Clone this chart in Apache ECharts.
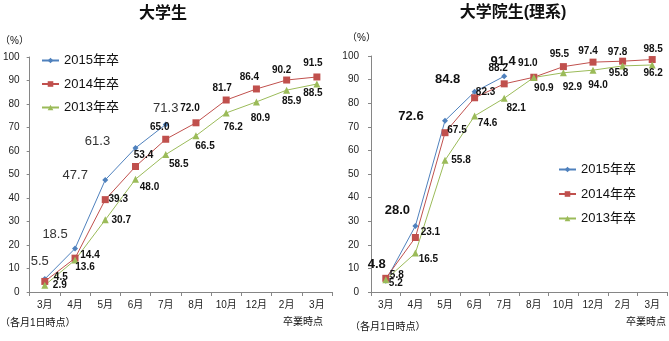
<!DOCTYPE html>
<html>
<head>
<meta charset="utf-8">
<script src="https://cdn.jsdelivr.net/npm/echarts@6/dist/echarts.min.js"></script>
<style>html,body{margin:0;padding:0;background:#fff}#c{width:669px;height:341px}</style>
</head>
<body>
<div id="c"></div>
<script>
// ---- data ----
const months = ['3月','4月','5月','6月','7月','8月','10月','12月','2月','3月'];
const seriesNames = ['2015年卒','2014年卒','2013年卒'];
// 大学生
const univ2015 = [5.5, 18.5, 47.7, 61.3, 71.3];
const univ2014 = [4.5, 14.4, 39.3, 53.4, 65.0, 72.0, 81.7, 86.4, 90.2, 91.5];
const univ2013 = [2.9, 13.6, 30.7, 48.0, 58.5, 66.5, 76.2, 80.9, 85.9, 88.5];
// 大学院生(理系)
const grad2015 = [4.8, 28.0, 72.6, 84.8, 91.4];
const grad2014 = [5.8, 23.1, 67.5, 82.3, 88.2, 91.0, 95.5, 97.4, 97.8, 98.5];
const grad2013 = [5.2, 16.5, 55.8, 74.6, 82.1, 90.9, 92.9, 94.0, 95.8, 96.2];
const yTicks = [0,10,20,30,40,50,60,70,80,90,100];

// ---- layout: label offsets (px, relative to the point) ----
const offU15 = [[-5,-18],[-20,-14],[-30,-4],[-38,-7],[0,-16]];
const offU14 = [[16,-4],[15,-3],[13,0],[8,-11],[-6,-12],[-6,-15],[-4,-12],[-7,-12],[-5,-10],[-4,-14]];
const offU13 = [[15,0],[10,7],[16,0],[14,8],[13,10],[9,11],[7,14],[4,16],[5,11],[-4,9]];
const offG15 = [[-9,-16],[-18,-15],[-34,-4],[-27,-12],[-1,-15]];
const offG14 = [[11,-3],[15,-5],[12,-2],[11,-6],[-6,-16],[-6,-14],[-4,-12],[-5,-11],[-5,-9],[1,-10]];
const offG13 = [[10,4],[13,6],[16,0],[13,7],[12,10],[10,11],[9,14],[5,15],[-4,7],[1,8]];

const FONT = 'Arial, "Liberation Sans", "Noto Sans CJK JP", sans-serif';
const COLORS = ['#4F81BD','#C0504D','#9BBB59'];
const SYMBOLS = ['diamond','rect','triangle'];
const SYMSIZE = [6,7,7];

function mkData(vals, offs){
  return vals.map((v,i)=>({value:v, label:{offset:offs[i]}}));
}
function mkSeries(idx, vals, offs, grid, labelStyle){
  return {
    name: seriesNames[idx], type:'line', xAxisIndex:grid, yAxisIndex:grid,
    data: mkData(vals, offs),
    symbol: SYMBOLS[idx], symbolSize: SYMSIZE[idx], showAllSymbol:true,
    itemStyle:{color:COLORS[idx]}, lineStyle:{color:COLORS[idx], width:1},
    animation:false,
    label: Object.assign({show:true, position:'inside', fontFamily:FONT, align:'center', verticalAlign:'middle',
      formatter:(p)=>Number(p.value).toFixed(1)}, labelStyle)
  };
}
const small = {fontSize:10, fontWeight:'bold', color:'#111'};
const big15L = {fontSize:13, fontWeight:'normal', color:'#333'};
const big15R = {fontSize:13, fontWeight:'bold', color:'#111'};

function xAx(grid){
  return {type:'category', gridIndex:grid, data:months, boundaryGap:true,
    axisLine:{lineStyle:{color:'#868686'}}, axisTick:{show:true, length:4, lineStyle:{color:'#868686'}},
    axisLabel:{fontSize:10, color:'#222', fontFamily:FONT, margin:8, interval:0}};
}
function yAx(grid, margin){
  return {type:'value', gridIndex:grid, min:0, max:100, interval:10,
    axisLine:{show:true, lineStyle:{color:'#868686'}}, axisTick:{show:true, length:3, lineStyle:{color:'#868686'}},
    splitLine:{show:false},
    axisLabel:{fontSize:10, color:'#222', fontFamily:FONT, margin:margin,
      formatter:(v)=> yTicks.indexOf(v)>=0 ? String(v) : ''}};
}
function txt(t, x, y, size, weight, align){
  return {type:'text', x:x, y:y, style:{text:t, font:(weight||'normal')+' '+size+'px '+FONT, fill:'#111', align:align||'center', verticalAlign:'middle'}};
}

const chart = echarts.init(document.getElementById('c'), null, {renderer:'canvas'});
chart.setOption({
  animation:false,
  grid:[
    {left:27, top:57, width:305, height:235},
    {left:371, top:56, width:296, height:236}
  ],
  xAxis:[xAx(0), xAx(1)],
  yAxis:[yAx(0,10), yAx(1,12)],
  legend:[
    {orient:'vertical', left:41, top:54, padding:0, itemGap:10.5, itemWidth:17, itemHeight:7,
     data:seriesNames, textStyle:{fontSize:13, color:'#111', fontFamily:FONT}},
    {orient:'vertical', left:558, top:163, padding:0, itemGap:11.5, itemWidth:17, itemHeight:7,
     data:seriesNames, textStyle:{fontSize:13, color:'#111', fontFamily:FONT}}
  ],
  graphic:[
    txt('大学生', 163, 14, 16, 'bold'),
    txt('大学院生(理系)', 513, 13, 16, 'bold'),
    txt('（%）', 0, 41, 10, 'normal', 'left'),
    txt('（%）', 347, 38, 10, 'normal', 'left'),
    txt('（各月1日時点）', 0, 323, 10, 'normal', 'left'),
    txt('（各月1日時点）', 350, 327, 10, 'normal', 'left'),
    txt('卒業時点', 303, 322, 10, 'normal'),
    txt('卒業時点', 646, 322, 10, 'normal')
  ],
  series:[
    mkSeries(0, univ2015, offU15, 0, big15L),
    mkSeries(1, univ2014, offU14, 0, small),
    mkSeries(2, univ2013, offU13, 0, small),
    mkSeries(0, grad2015, offG15, 1, big15R),
    mkSeries(1, grad2014, offG14, 1, small),
    mkSeries(2, grad2013, offG13, 1, small)
  ]
});
</script>
</body>
</html>
